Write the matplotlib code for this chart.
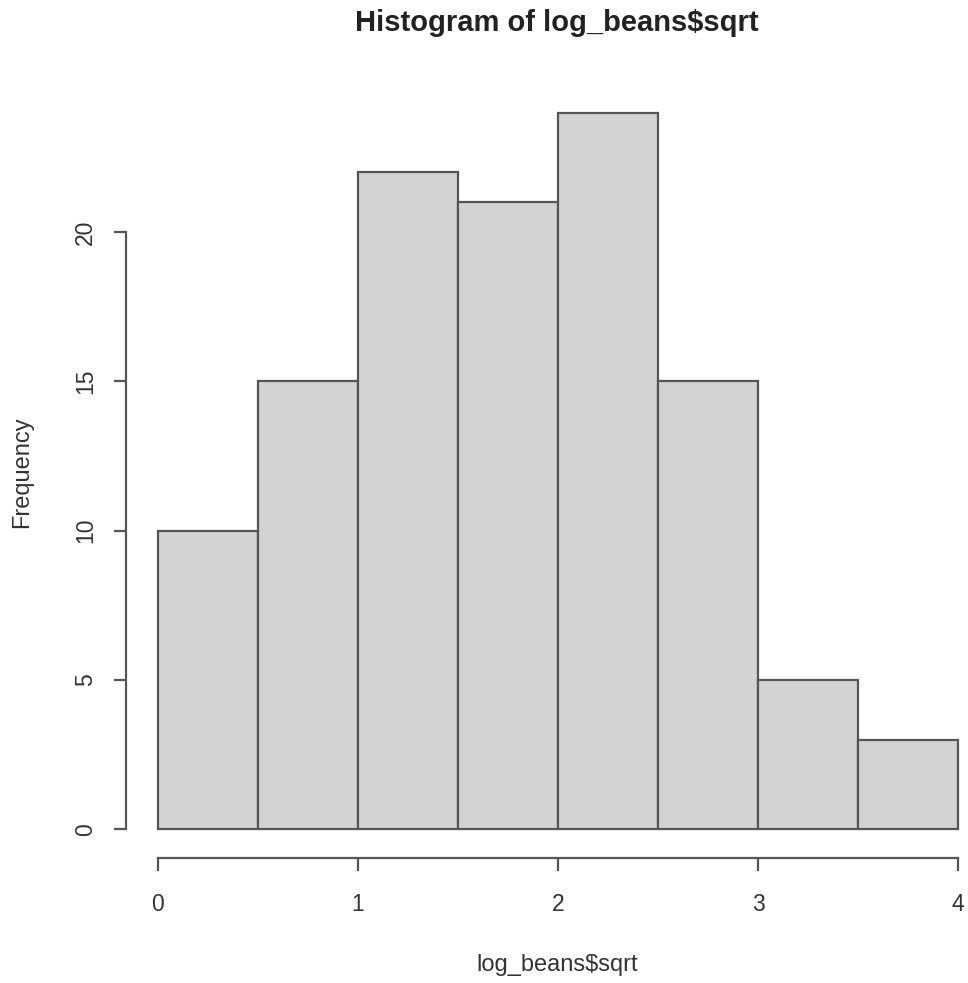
import matplotlib
matplotlib.use("Agg")
import matplotlib.pyplot as plt
import numpy as np

bin_edges = [0.0, 0.5, 1.0, 1.5, 2.0, 2.5, 3.0, 3.5, 4.0]
counts = [10, 15, 22, 21, 24, 15, 5, 3]
x_ticks = [0, 1, 2, 3, 4]
y_ticks = [0, 5, 10, 15, 20]
title = "Histogram of log_beans$sqrt"
xlabel = "log_beans$sqrt"
ylabel = "Frequency"

plt.rcParams['font.family'] = ['Liberation Sans', 'DejaVu Sans']
W, H = 968, 983
fig = plt.figure(figsize=(W/100, H/100), dpi=100)
left, right, bottom, top = 126, 990, 858, 84
ax = fig.add_axes([left/W, 1-bottom/H, (right-left)/W, (bottom-top)/H])

edges = np.array(bin_edges)
ax.bar(edges[:-1], counts, width=np.diff(edges), align='edge',
       color='#d3d3d3', edgecolor='#555555', linewidth=1.6)
ax.set_xlim(-0.16, 4.16)
ax.set_ylim(-0.96, 24.96)

for s in ['top', 'right']:
    ax.spines[s].set_visible(False)
ax.spines['left'].set_bounds(0, 20)
ax.spines['bottom'].set_bounds(0, 4)
for s in ['left', 'bottom']:
    ax.spines[s].set_color('#555555')
    ax.spines[s].set_linewidth(1.6)

ax.set_xticks(x_ticks)
ax.set_yticks(y_ticks)
ax.tick_params(axis='x', pad=16)
ax.tick_params(axis='y', pad=12)
ax.tick_params(axis='both', length=9, width=1.6, color='#555555',
               labelsize=16.5, labelcolor='#333333')
for lab in ax.get_yticklabels():
    lab.set_rotation(90)
    lab.set_va('center')

fig.text(22/W, 1-472/H, ylabel, rotation=90, ha='center', va='center',
         fontsize=17, color='#333333')
fig.text(557/W, 1-965/H, xlabel, ha='center', va='center',
         fontsize=17, color='#333333')
fig.text(557/W, 1-23/H, title, ha='center', va='center',
         fontsize=21, fontweight='bold', color='#222222')

fig.savefig('out.png', dpi=100)
